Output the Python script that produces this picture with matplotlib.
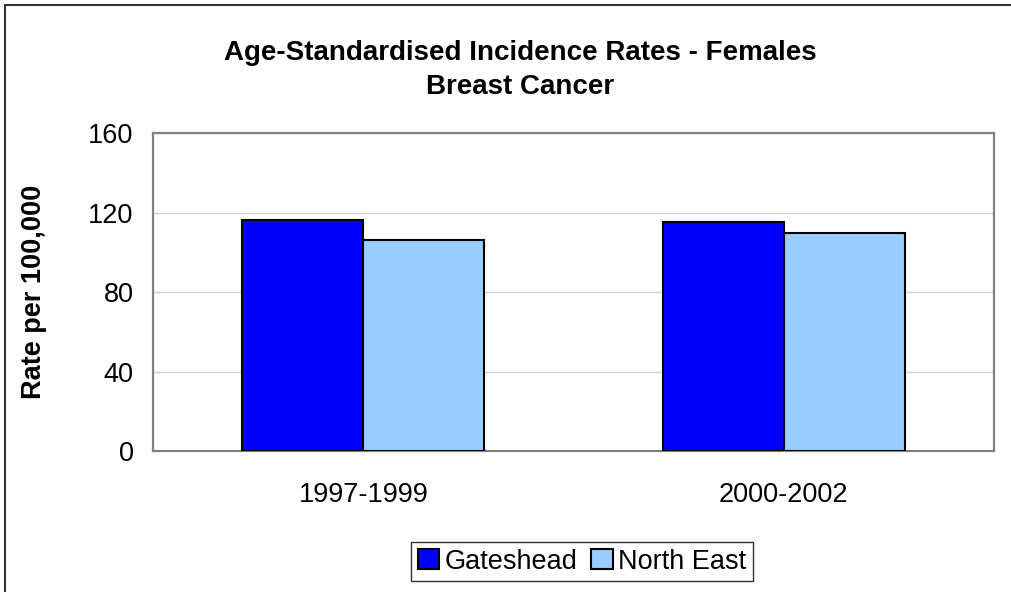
import numpy as np
import matplotlib.pyplot as plt
from matplotlib.patches import Rectangle

plt.rcParams['font.family'] = ['Liberation Sans', 'DejaVu Sans']

periods = ['1997-1999', '2000-2002']
gateshead = [116.3, 115.2]
north_east = [106.1, 110.0]
yticks = [0, 40, 80, 120, 160]

fig = plt.figure(figsize=(10.12, 5.92), dpi=100)
ax = fig.add_axes([0.1512, 0.2382, 0.831, 0.5363])

x = np.arange(len(periods))
w = 0.288
ax.bar(x - w / 2, gateshead, w, color='#0000FF', edgecolor='black', linewidth=1.5,
       label='Gateshead', zorder=3)
ax.bar(x + w / 2, north_east, w, color='#99CCFF', edgecolor='black', linewidth=1.5,
       label='North East', zorder=3)

ax.set_xlim(-0.5, 1.5)
ax.set_ylim(0, 160)
ax.set_yticks(yticks)
ax.set_xticks(x)
ax.set_xticklabels(periods)
ax.tick_params(axis='both', length=0, labelsize=19.5)
ax.tick_params(axis='y', pad=14)
ax.tick_params(axis='x', pad=22)
ax.yaxis.grid(True, color='#D0D0D0', linewidth=1, zorder=0)
ax.set_axisbelow(True)
for s in ax.spines.values():
    s.set_color('#808080')
    s.set_linewidth(1.6)

fig.text(0.034, 0.507, 'Rate per 100,000', rotation=90, fontsize=19.5, fontweight='bold',
         ha='center', va='center')
fig.text(0.514, 0.882, 'Age-Standardised Incidence Rates - Females\nBreast Cancer',
         fontsize=20, fontweight='bold', ha='center', va='center', linespacing=1.38)

leg = ax.legend(loc='center', bbox_to_anchor=(0.575, 0.0515), bbox_transform=fig.transFigure,
                ncol=2, fontsize=19.5, frameon=True, fancybox=False, edgecolor='black',
                handlelength=0.8, handleheight=0.8, handletextpad=0.2, columnspacing=0.5,
                borderpad=0.25, borderaxespad=0)
leg.get_frame().set_linewidth(1.0)

fig.patches.append(Rectangle((5 / 1012, -0.1), 1.2, 0.1 + (592 - 5) / 592,
                             transform=fig.transFigure, fill=False,
                             edgecolor='#333333', linewidth=1.5))

fig.savefig('out.png', dpi=100)
